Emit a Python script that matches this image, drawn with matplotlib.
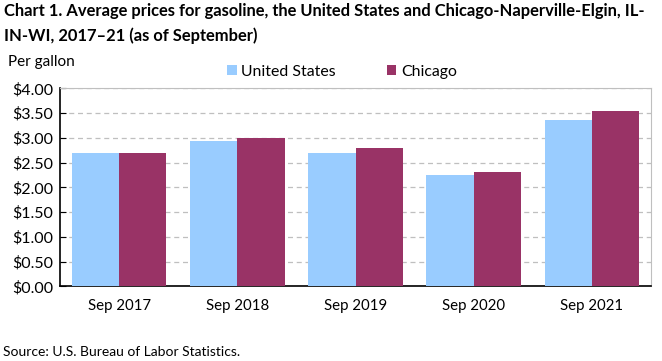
import matplotlib
matplotlib.use("Agg")
import matplotlib.pyplot as plt
import numpy as np
from matplotlib.ticker import FuncFormatter, MultipleLocator

categories = ["Sep 2017", "Sep 2018", "Sep 2019", "Sep 2020", "Sep 2021"]
us = [2.69, 2.94, 2.69, 2.25, 3.36]
chicago = [2.69, 3.00, 2.79, 2.31, 3.54]
series_names = ["United States", "Chicago"]
colors = ["#99CCFF", "#993366"]

plt.rcParams['font.family'] = ['Lato', 'DejaVu Sans']

fig = plt.figure(figsize=(6.62, 3.61), dpi=100)
ax = fig.add_axes([60/662, 1-286.3/361, (651-60)/662, (286.3-88.3)/361])

x = np.arange(len(categories))
w = 0.4
ax.bar(x - w/2, us, w, color=colors[0], label=series_names[0], zorder=3)
ax.bar(x + w/2, chicago, w, color=colors[1], label=series_names[1], zorder=3)

ax.set_xlim(-0.5, len(categories) - 0.5)
ax.set_ylim(0, 4)
ax.yaxis.set_major_locator(MultipleLocator(0.5))
ax.yaxis.set_major_formatter(FuncFormatter(lambda v, p: f"${v:.2f}"))
ax.set_xticks(x)
ax.set_xticklabels(categories)
ax.grid(axis='y', color='#BFBFBF', linestyle=(0, (4, 3)), linewidth=0.9, zorder=0)
ax.tick_params(axis='x', length=0, pad=9, labelsize=10.8)
ax.tick_params(axis='y', length=4, direction='in', pad=5, labelsize=11.5, color='black')
for s in ['top', 'right']:
    ax.spines[s].set_color('#BFBFBF')
for s in ['left', 'bottom']:
    ax.spines[s].set_color('black')
    ax.spines[s].set_linewidth(1.2)

fig.text(4/662, 1-3/361, "Chart 1. Average prices for gasoline, the United States and Chicago-Naperville-Elgin, IL-\nIN-WI, 2017–21 (as of September)",
         fontsize=11.9, fontweight='bold', va='top', ha='left', linespacing=1.6)
fig.text(8/662, 1-62/361, "Per gallon", fontsize=11, va='center')
fig.text(3/662, 1-352/361, "Source: U.S. Bureau of Labor Statistics.", fontsize=10, va='center')

leg = fig.legend(loc='center', bbox_to_anchor=(342/662, 1-72/361), ncol=2, frameon=False,
                 fontsize=11.4, handlelength=0.6, handleheight=0.6, handletextpad=0.3,
                 columnspacing=3.2)

fig.savefig("out.png", dpi=100)
